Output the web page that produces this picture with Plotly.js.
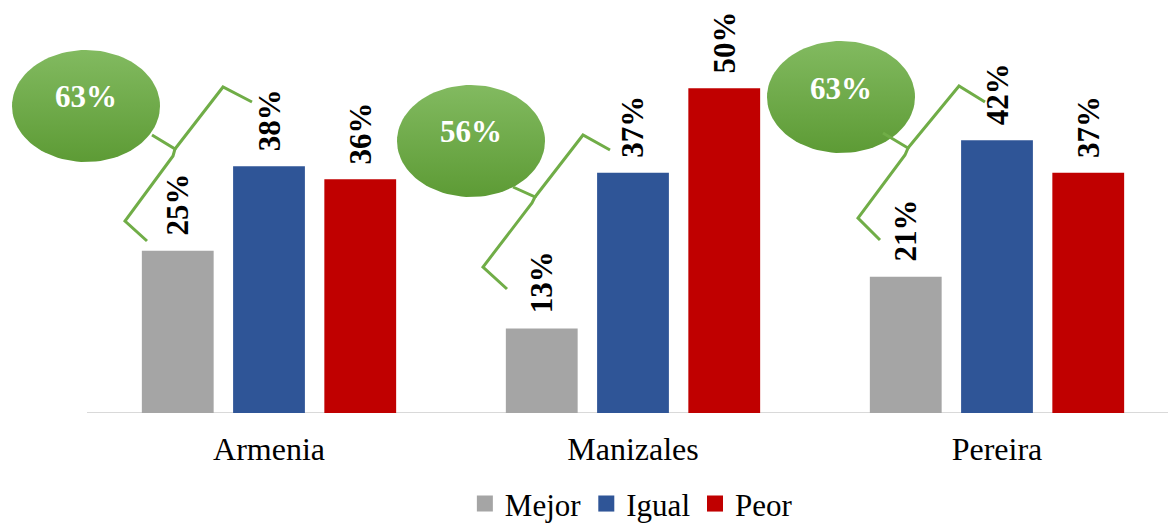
<!DOCTYPE html>
<html>
<head>
<meta charset="utf-8">
<script src="https://cdn.plot.ly/plotly-3.0.1.min.js"></script>
<style>
  html, body { margin: 0; padding: 0; background: #fff; }
  #chart { width: 1168px; height: 526px; }
</style>
</head>
<body>
<div id="chart"></div>
<script>
// Percentages per city
const categories = ['Armenia', 'Manizales', 'Pereira'];
const seriesNames = ['Mejor', 'Igual', 'Peor'];
const mejor = [25, 13, 21];
const igual = [38, 37, 42];
const peor = [36, 50, 37];
const combinedShare = [63, 56, 63];   // figure shown in each green bubble

const seriesValues = [mejor, igual, peor];
const colors = ['#a5a5a5', '#2f5597', '#c00000'];
const green = '#70ad47';
const serif = 'Liberation Serif';

// Figure frame: the plot area spans the full width so the left bubble is not clipped
const W = 1168, H = 526;
const M = { l: 0, r: 0, t: 0, b: 113 };
const plotW = W - M.l - M.r, plotH = H - M.t - M.b;
const catPx = 364;                        // pixels per category band
const axisStartPx = 87;                   // left end of the baseline
const x0 = -0.5 - axisStartPx / catPx;
const xRange = [x0, x0 + plotW / catPx];
const yRange = [0, 63.6];
const bargap = 0.248, bargroupgap = 0.213;
const slot = (1 - bargap) / 3;            // width of one bar slot in category units

// pixel position in the figure -> axis units (used for the decorative callouts)
const toX = px => xRange[0] + (px - M.l) / plotW * (xRange[1] - xRange[0]);
const toY = py => yRange[0] + (M.t + plotH - py) / plotH * (yRange[1] - yRange[0]);

// Bubble + curly-brace geometry, in figure pixels
const callouts = [
  { cx: 86, cy: 106, ty: 96,
    brace: [[[147, 241], [125, 221], [173, 156], [175, 149], [152, 135]],
            [[175, 149], [223, 87], [252, 102]]] },
  { cx: 471, cy: 141, ty: 131,
    brace: [[[507, 289], [483, 267], [532, 203], [535, 197], [513, 187]],
            [[535, 197], [583, 135], [610, 150]]] },
  { cx: 841, cy: 97, ty: 88,
    brace: [[[880, 240], [858, 218], [905, 155], [908, 148], [883, 133]],
            [[908, 148], [959, 86], [985, 102]]] }
];
const RX = 74, RY = 56;

// Bars (legend entries come from the square-marker keys below)
const traces = seriesValues.map((vals, i) => ({
  type: 'bar',
  name: seriesNames[i],
  x: categories,
  y: vals,
  marker: { color: colors[i] },
  showlegend: false,
  hoverinfo: 'x+y+name'
}));

// Legend keys with larger square swatches
seriesNames.forEach((name, i) => {
  traces.push({
    type: 'scatter', mode: 'markers', name: name,
    x: [null], y: [null],
    marker: { symbol: 'square', size: 16, color: colors[i] },
    hoverinfo: 'skip'
  });
});

// Baseline of the category axis
const shapes = [{
  type: 'line', xref: 'x2', yref: 'y',
  x0: -0.5, x1: xRange[1], y0: 0, y1: 0,
  line: { color: '#d9d9d9', width: 2 }, layer: 'below'
}];
const annotations = [];

// Value labels above each bar, rotated
seriesValues.forEach((vals, i) => {
  vals.forEach((v, c) => {
    annotations.push({
      xref: 'x2', yref: 'y',
      x: c + (i - 1) * slot, y: v,
      text: v + '%',
      textangle: -90,
      showarrow: false,
      xanchor: 'center', yanchor: 'bottom',
      yshift: 13,
      font: { family: serif, size: 31, color: '#000', weight: 'bold' }
    });
  });
});

// Green bubbles and braces
callouts.forEach((co, c) => {
  const ex = [], ey = [];
  for (let k = 0; k <= 96; k++) {
    const a = 2 * Math.PI * k / 96;
    ex.push(toX(co.cx + RX * Math.cos(a)));
    ey.push(toY(co.cy + RY * Math.sin(a)));
  }
  traces.push({
    type: 'scatter', mode: 'lines',
    xaxis: 'x2', yaxis: 'y',
    x: ex, y: ey,
    fill: 'toself',
    fillcolor: '#6aab40',
    fillgradient: { type: 'vertical', colorscale: [[0, '#5d9b35'], [1, '#82ba60']] },
    line: { width: 0, color: '#6aab40' },
    showlegend: false, hoverinfo: 'skip'
  });

  co.brace.forEach(seg => {
    const d = seg.map((p, k) => (k ? 'L' : 'M') + toX(p[0]) + ',' + toY(p[1])).join(' ');
    shapes.push({
      type: 'path', xref: 'x2', yref: 'y', path: d,
      line: { color: green, width: 3 }, layer: 'above'
    });
  });

  annotations.push({
    xref: 'x2', yref: 'y',
    x: toX(co.cx), y: toY(co.ty),
    text: combinedShare[c] + '%',
    showarrow: false, xanchor: 'center', yanchor: 'middle',
    font: { family: serif, size: 31, color: '#ffffff', weight: 'bold' }
  });
});

const layout = {
  width: W, height: H,
  margin: M,
  paper_bgcolor: '#fff', plot_bgcolor: '#fff',
  barmode: 'group', bargap: bargap, bargroupgap: bargroupgap,
  font: { family: serif, color: '#000' },
  xaxis: {
    type: 'category', range: xRange, fixedrange: true,
    showline: false, ticks: '', showgrid: false, zeroline: false,
    ticklabelstandoff: 14,
    tickfont: { family: serif, size: 32, color: '#000' }
  },
  xaxis2: {
    overlaying: 'x', anchor: 'y', range: xRange, visible: false, fixedrange: true
  },
  yaxis: {
    range: yRange, visible: false, showgrid: false, zeroline: false, fixedrange: true
  },
  showlegend: true,
  legend: {
    orientation: 'h', xref: 'paper', x: 0.398, xanchor: 'left',
    yref: 'container', y: 0.042, yanchor: 'middle',
    itemsizing: 'trace',
    font: { family: serif, size: 31, color: '#000' },
    bgcolor: 'rgba(0,0,0,0)'
  },
  shapes: shapes,
  annotations: annotations
};

Plotly.newPlot('chart', traces, layout, { displayModeBar: false, staticPlot: true });
</script>
</body>
</html>
